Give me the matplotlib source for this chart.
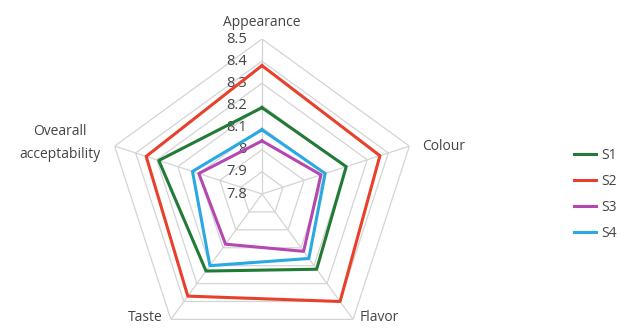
"""Sensory radar chart for samples S1-S4"""

import numpy as np
import matplotlib
matplotlib.use("Agg")
import matplotlib.pyplot as plt

categories = ["Appearance", "Colour", "Flavor", "Taste", "Ovearall\nacceptability"]
s1 = [8.19, 8.20, 8.22, 8.23, 8.29]
s2 = [8.38, 8.36, 8.40, 8.37, 8.35]
s3 = [8.04, 8.08, 8.12, 8.08, 8.10]
s4 = [8.09, 8.10, 8.16, 8.20, 8.13]
series_names = ["S1", "S2", "S3", "S4"]
ring_values = [7.8, 7.9, 8.0, 8.1, 8.2, 8.3, 8.4, 8.5]
ring_labels = ["7.8", "7.9", "8", "8.1", "8.2", "8.3", "8.4", "8.5"]

colors = ["#217a35", "#e8402a", "#b548b0", "#29a9e1"]
grid_color = "#d4d4d4"
text_color = "#454545"

plt.rcParams["font.family"] = ["Open Sans", "DejaVu Sans"]

fig = plt.figure(figsize=(6.26, 3.29), dpi=100)
ax = fig.add_axes([0.1709, -0.0608, 0.4952, 0.9422], projection="polar")
ax.set_theta_offset(np.pi / 2)
ax.set_theta_direction(-1)
ax.set_ylim(ring_values[0], ring_values[-1])
ax.grid(False)
ax.spines["polar"].set_visible(False)
ax.set_xticks([])
ax.set_yticks([])
ax.patch.set_alpha(0)

n = len(categories)
angles = np.arange(n) * 2 * np.pi / n
closed = np.append(angles, angles[0])

# polygon grid
for v in ring_values:
    ax.plot(closed, [v] * (n + 1), color=grid_color, lw=0.9, zorder=1)
for a in angles:
    ax.plot([a, a], [ring_values[0], ring_values[-1]], color=grid_color, lw=0.9, zorder=1)

# radial labels along the top spoke
for v, lab in zip(ring_values, ring_labels):
    ax.annotate(lab, xy=(0, v), xytext=(-11, 0), textcoords="offset points",
                ha="right", va="center", fontsize=10.5, color=text_color, zorder=2)

# category labels
offsets = [(0, 12, "center", "center"),
           (9, 0, "left", "center"),
           (5, 1.5, "left", "center"),
           (-6, 1.5, "right", "center"),
           (-10, 2, "right", "center")]
for a, lab, (dx, dy, ha, va) in zip(angles, categories, offsets):
    ax.annotate(lab, xy=(a, ring_values[-1]), xytext=(dx, dy), textcoords="offset points",
                ha=ha, va=va, fontsize=10, color=text_color, multialignment="center",
                linespacing=1.75, annotation_clip=False)

for vals, name, c in zip([s1, s2, s3, s4], series_names, colors):
    ax.plot(closed, vals + vals[:1], color=c, lw=2.2, label=name, zorder=3)

fig.legend(loc="center left", bbox_to_anchor=(0.897, 0.409), frameon=False,
           fontsize=10, handlelength=1.6, handletextpad=0.35, labelspacing=0.8,
           labelcolor=text_color)

fig.savefig("out.png", dpi=100)
